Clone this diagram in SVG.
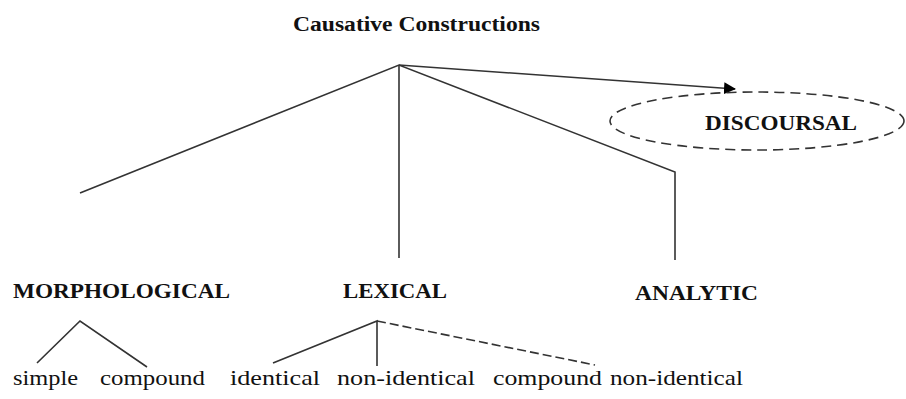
<svg xmlns="http://www.w3.org/2000/svg" width="906" height="399" viewBox="0 0 906 399">
<style>
.b{font-family:"Liberation Serif","Times New Roman",serif;font-weight:bold;fill:#111}
.r{font-family:"Liberation Serif","Times New Roman",serif;font-size:22px;fill:#111}
.ln{stroke:#333;stroke-width:1.6;fill:none}
.dl{stroke:#333;stroke-width:1.6;fill:none;stroke-dasharray:9 4}
</style>
<defs>
<marker id="ah" markerUnits="userSpaceOnUse" markerWidth="12" markerHeight="12" refX="11" refY="6" orient="auto">
<path d="M0,0 L12,6 L0,12 Z" fill="#000"/>
</marker>
</defs>
<rect width="906" height="399" fill="#fff"/>
<g id="connectors">
<polyline class="ln" points="80,193 399,65 675,172 675,260"/>
<line class="ln" x1="399" y1="65" x2="399" y2="258"/>
<line class="ln" x1="399" y1="65" x2="735" y2="89" marker-end="url(#ah)"/>
<polyline class="ln" points="37,363 80,321 147,367"/>
<polyline class="ln" points="273,363 377,321 377,366"/>
<line class="dl" x1="377" y1="321" x2="595" y2="365"/>
</g>
<g id="root"><text class="b" x="293" y="31" font-size="20" textLength="247" lengthAdjust="spacingAndGlyphs">Causative Constructions</text></g>
<g id="discoursal">
<ellipse cx="757" cy="121" rx="147" ry="29" fill="none" stroke="#333" stroke-width="1.6" stroke-dasharray="10 6"/>
<text class="b" x="705" y="130" font-size="21" textLength="152" lengthAdjust="spacingAndGlyphs">DISCOURSAL</text>
</g>
<g id="morphological"><text class="b" x="13" y="298" font-size="20" textLength="217" lengthAdjust="spacingAndGlyphs">MORPHOLOGICAL</text></g>
<g id="lexical"><text class="b" x="343" y="298" font-size="20" textLength="104" lengthAdjust="spacingAndGlyphs">LEXICAL</text></g>
<g id="analytic"><text class="b" x="635" y="300" font-size="20" textLength="123" lengthAdjust="spacingAndGlyphs">ANALYTIC</text></g>
<g id="simple"><text class="r" x="13" y="385" textLength="65" lengthAdjust="spacingAndGlyphs">simple</text></g>
<g id="compound1"><text class="r" x="100" y="385" textLength="105" lengthAdjust="spacingAndGlyphs">compound</text></g>
<g id="identical"><text class="r" x="230" y="385" textLength="90" lengthAdjust="spacingAndGlyphs">identical</text></g>
<g id="non-identical1"><text class="r" x="337" y="385" textLength="138" lengthAdjust="spacingAndGlyphs">non-identical</text></g>
<g id="compound2"><text class="r" x="493" y="385" textLength="109" lengthAdjust="spacingAndGlyphs">compound</text></g>
<g id="non-identical2"><text class="r" x="610" y="385" textLength="133" lengthAdjust="spacingAndGlyphs">non-identical</text></g>
</svg>
